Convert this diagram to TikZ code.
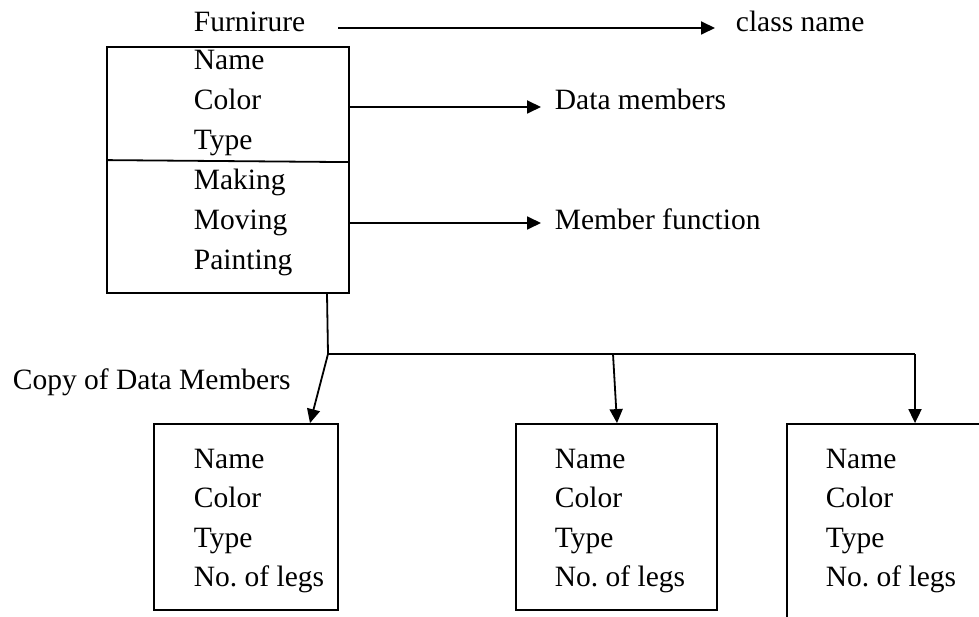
\documentclass[tikz,border=0pt]{standalone}
\usepackage{fontspec}
\setmainfont{Liberation Serif}
\usetikzlibrary{arrows.meta,calc}
\frenchspacing
\begin{document}
\begin{tikzpicture}[x=1pt,y=-1pt,
  line width=1.8pt,
  lbl/.style={anchor=base west,inner sep=0pt,font=\fontsize{29.5}{36}\selectfont},
  box/.style={draw,rectangle,inner sep=0pt,line width=1.8pt},
  arr/.style={-{Triangle[length=14pt,width=13pt]}}]
\useasboundingbox (0,0) rectangle (979,617);
\clip (0,0) rectangle (979,617);

% class box with its two compartments
\node[box,minimum width=242pt,minimum height=246pt] (cls) at (228,170) {};
\draw ($(cls.north west)+(0,114)$) -- ($(cls.north east)+(0,116)$);
\foreach \t [count=\i] in {Name,Color,Type,Making,Moving,Painting}
  \node[lbl] (m\i) at (193,30+40*\i) {\t};

% labels on the right
\node[lbl] (fur) at (193,32) {Furnirure};
\node[lbl] (cn) at (735,32) {class name};
\node[lbl] (dm) at (554,110) {Data members};
\node[lbl] (mf) at (554,230) {Member function};
\node[lbl] (copy) at (12,389) {Copy of Data Members};

\draw[arr] ($(fur.base east)+(32,-4)$) -- ($(cn.base west)+(-20,-4)$);
\draw[arr] ($(cls.east)+(0,-63)$) -- ($(dm.base west)+(-13,-3)$);
\draw[arr] ($(cls.east)+(0,53)$) -- ($(mf.base west)+(-13,-7)$);

% object boxes
\node[box,minimum width=184pt,minimum height=186pt] (b1) at (246,517) {};
\node[box,minimum width=201pt,minimum height=186pt] (b2) at (616.5,517) {};
\node[box,minimum width=240pt,minimum height=240pt] (b3) at (907,544) {};
\foreach \bx/\tx in {1/193,2/554,3/825}
  \foreach \t [count=\i] in {Name,Color,Type,No. of legs}
    \node[lbl] (b\bx t\i) at (\tx,428.5+39.5*\i) {\t};

% distribution lines
\coordinate (j) at (328,354);
\coordinate (jr) at (915,354);
\draw ($(cls.south)+(99,0)$) -- (j);
\draw (j) -- (jr);
\draw[arr] (j) -- ($(b1.north)+(64,0)$);
\draw[arr] ($(j)+(285,0)$) -- ($(b2.north)+(0.5,0)$);
\draw[arr] (jr) -- (jr |- b3.north);
\end{tikzpicture}
\end{document}
